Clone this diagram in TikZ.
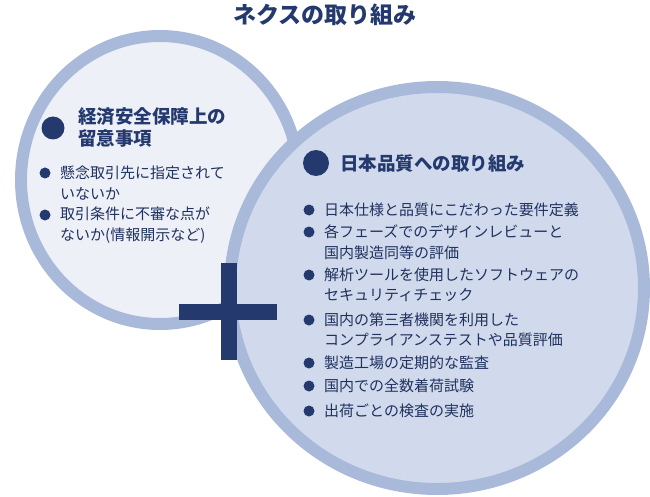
\documentclass[tikz,border=0pt]{standalone}
\usepackage{fontspec}
\setmainfont{Noto Sans CJK JP}
\usetikzlibrary{positioning}
\definecolor{navy}{HTML}{243A6E}
\definecolor{ring}{HTML}{A9B9DA}
\definecolor{paleleft}{HTML}{EEF0F8}
\definecolor{paleright}{HTML}{D0DAEC}
\tikzset{
  dot/.style={circle,fill=navy,inner sep=0pt,minimum size=#1},
  item/.style={anchor=west,inner sep=0pt,text=navy!85!black,align=left,
    font=\fontsize{15}{20.5}\selectfont},
  head/.style={anchor=west,inner sep=0pt,text=navy,align=left,
    font=\fontsize{18.5}{22}\selectfont\bfseries},
}
\begin{document}
\begin{tikzpicture}[x=1pt,y=-1pt]
  \useasboundingbox (0,0) rectangle (650,497);
  % circles
  \draw[line width=12pt,draw=ring,fill=paleleft] (160,180) ellipse (139 and 144);
  \draw[line width=12pt,draw=ring,fill=paleright] (437,288) ellipse (207 and 201);
  % plus
  \fill[navy] (179,304) rectangle (277,320);
  \fill[navy] (221,263) rectangle (237,360);
  %
  \node[text=navy,font=\fontsize{23}{26}\selectfont\bfseries] (title) at (325,15) {ネクスの取り組み};
  % left
  \node[dot=23pt] (ldot) at (53,128) {};
  \node[head] (lhead) at (78,127) {経済安全保障上の\\留意事項};
  \node[dot=11pt] (l1) at (45,173) {};
  \node[item] (l1t) at (60,183) {懸念取引先に指定されて\\いないか};
  \node[dot=11pt] (l2) at (45,215) {};
  \node[item] (l2t) at (60,225) {取引条件に不審な点が\\ないか(情報開示など)};
  % right
  \node[dot=26pt] (rdot) at (316,163) {};
  \node[head] (rhead) at (340,164) {日本品質への取り組み};
  \node[dot=11pt] (r1) at (309,210) {};
  \node[item] (r1t) at (324,210) {日本仕様と品質にこだわった要件定義};
  \node[dot=11pt] (r2) at (309,232) {};
  \node[item] (r2t) at (324,242) {各フェーズでのデザインレビューと\\国内製造同等の評価};
  \node[dot=11pt] (r3) at (309,275) {};
  \node[item] (r3t) at (324,285) {解析ツールを使用したソフトウェアの\\セキュリティチェック};
  \node[dot=11pt] (r4) at (309,320) {};
  \node[item] (r4t) at (324,330) {国内の第三者機関を利用した\\コンプライアンステストや品質評価};
  \node[dot=11pt] (r5) at (309,363) {};
  \node[item] (r5t) at (324,363) {製造工場の定期的な監査};
  \node[dot=11pt] (r6) at (309,386) {};
  \node[item] (r6t) at (324,386) {国内での全数着荷試験};
  \node[dot=11pt] (r7) at (309,411) {};
  \node[item] (r7t) at (324,411) {出荷ごとの検査の実施};
\end{tikzpicture}
\end{document}
